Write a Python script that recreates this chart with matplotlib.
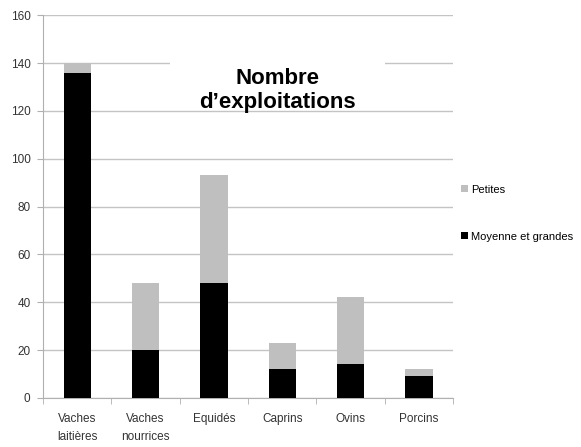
import numpy as np
import matplotlib
matplotlib.use('Agg')
import matplotlib.pyplot as plt
from matplotlib.patches import Rectangle

categories = ['Vaches\nlaitières', 'Vaches\nnourrices', 'Equidés', 'Caprins', 'Ovins', 'Porcins']
moyennes_grandes = [136, 20, 48, 12, 14, 9]
petites = [4, 28, 45, 11, 28, 3]

plt.rcParams['font.family'] = ['Liberation Sans', 'DejaVu Sans']

fig = plt.figure(figsize=(5.81, 4.47), dpi=100)
ax = fig.add_axes([0.074, 0.11, 0.706, 0.856])

x = np.arange(len(categories))
b1 = ax.bar(x, moyennes_grandes, width=0.4, color='black', zorder=3, label='Moyenne et grandes')
b2 = ax.bar(x, petites, width=0.4, bottom=moyennes_grandes, color='#bfbfbf', zorder=3, label='Petites')

ax.set_xlim(-0.5, len(categories) - 0.5)
ax.set_ylim(0, 160)
ax.set_yticks(range(0, 161, 20))
ax.yaxis.grid(True, color='#c4c4c4', linewidth=1.0, zorder=0)
ax.set_axisbelow(True)

ax.set_xticks(x)
ax.set_xticklabels(categories, fontsize=8.5, color='#333333', linespacing=1.7)
ax.tick_params(axis='x', which='major', length=0, pad=11)
ax.set_xticks(np.arange(-0.5, len(categories), 1), minor=True)
ax.tick_params(axis='x', which='minor', length=4, color='#b0b0b0')
ax.tick_params(axis='y', labelsize=8.5, labelcolor='#333333', length=4, color='#b0b0b0', pad=5)

for s in ['top', 'right']:
    ax.spines[s].set_visible(False)
for s in ['left', 'bottom']:
    ax.spines[s].set_color('#b0b0b0')

# white box masking the gridline behind the title
ax.add_patch(Rectangle((1.36, 133), 3.14, 14, facecolor='white', edgecolor='none', zorder=1))
ax.text(2.93, 128.5, 'Nombre\nd\u2019exploitations', ha='center', va='center',
        fontsize=16, fontweight='bold', linespacing=1.2, zorder=4)

fig.legend(handles=[b2, b1], loc='center left', bbox_to_anchor=(0.776, 0.523),
           frameon=False, fontsize=8, handlelength=0.6, handleheight=0.6,
           handletextpad=0.3, labelspacing=3.3)

fig.savefig('out.png', dpi=100)
